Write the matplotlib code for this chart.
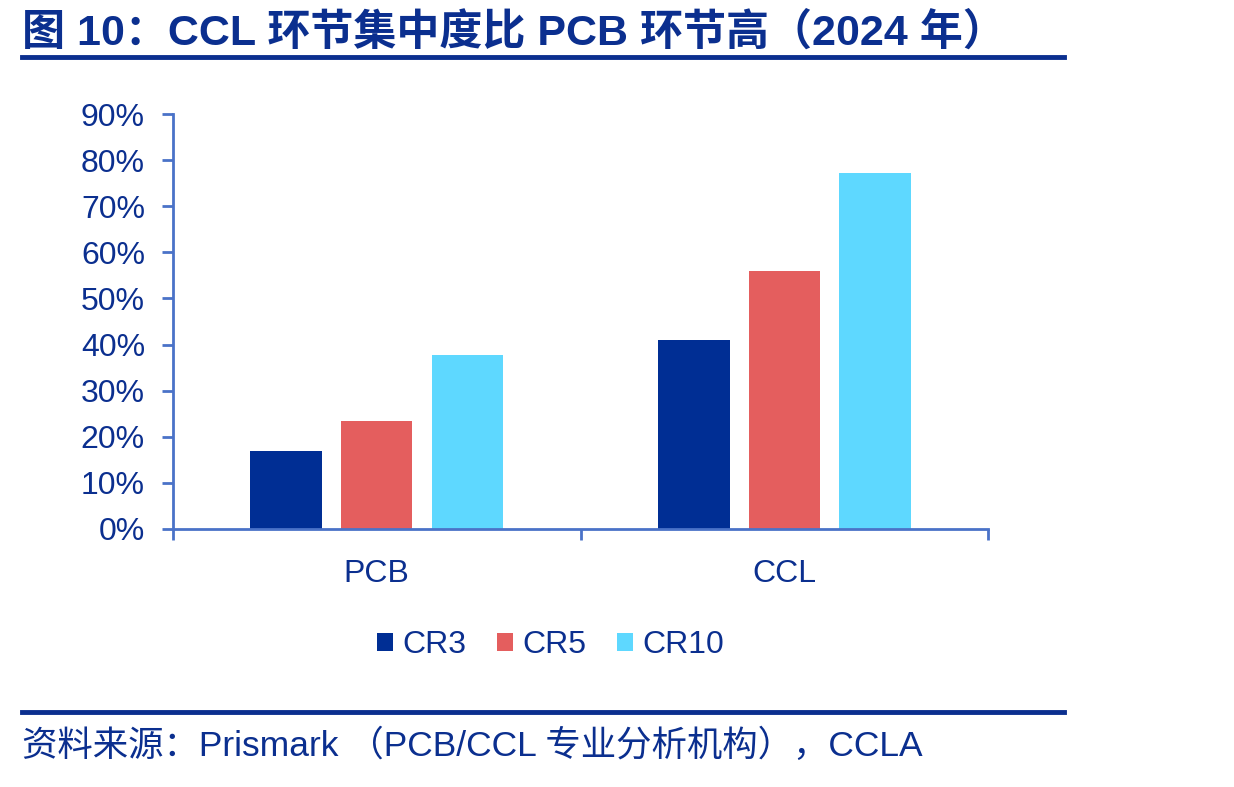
import matplotlib.pyplot as plt
import numpy as np
from matplotlib.ticker import FuncFormatter

plt.rcParams['font.family'] = ['Liberation Sans', 'Noto Sans CJK SC', 'DejaVu Sans']

# Data
categories = ["PCB", "CCL"]
series_names = ["CR3", "CR5", "CR10"]
cr3 = [16.8, 41.0]
cr5 = [23.3, 56.0]
cr10 = [37.8, 77.2]
yticks = [0, 10, 20, 30, 40, 50, 60, 70, 80, 90]

title = "图 10：CCL 环节集中度比 PCB 环节高（2024 年）"
source = "资料来源：Prismark （PCB/CCL 专业分析机构），CCLA"

TEXT = "#0B2F8F"
AXIS = "#4A72C8"
colors = ["#002E94", "#E45E5E", "#5ED8FF"]

fig = plt.figure(figsize=(12.34, 7.87), dpi=100)
ax = fig.add_axes([0.140, 0.328, 0.661, 0.527])

x = np.arange(len(categories))
width = 0.175
step = 0.222
for i, (vals, name) in enumerate(zip([cr3, cr5, cr10], series_names)):
    ax.bar(x + (i - 1) * step, vals, width, color=colors[i], label=name)

ax.set_xlim(-0.5, 1.5)
ax.set_ylim(0, 90)
ax.set_yticks(yticks)
ax.yaxis.set_major_formatter(FuncFormatter(lambda v, p: f"{v:.0f}%"))
ax.set_xticks([-0.5, 0.5, 1.5])
ax.set_xticklabels([])
ax.set_xticks(x, minor=True)
ax.set_xticklabels(categories, minor=True)
ax.tick_params(axis='x', which='minor', length=0, pad=22, labelsize=23, labelcolor=TEXT)
ax.tick_params(axis='x', which='major', length=8, width=2, color=AXIS, direction='out')
ax.tick_params(axis='y', length=8, width=2, color=AXIS, direction='out', pad=12,
               labelsize=23, labelcolor=TEXT)

for s in ['top', 'right']:
    ax.spines[s].set_visible(False)
for s in ['left', 'bottom']:
    ax.spines[s].set_color(AXIS)
    ax.spines[s].set_linewidth(2)

leg = fig.legend(loc='center', bbox_to_anchor=(0.446, 0.180), ncol=3, frameon=False,
                 fontsize=23, handlelength=0.5, handleheight=0.5, handletextpad=0.3,
                 columnspacing=0.95)
for t in leg.get_texts():
    t.set_color(TEXT)

# title and source
fig.text(0.018, 0.943, title, fontsize=31, fontweight='bold', color=TEXT, va='baseline')
fig.add_artist(plt.Line2D([0.018, 0.862], [0.927, 0.927], color="#0B2F8F", lw=3.5,
                          transform=fig.transFigure))
fig.add_artist(plt.Line2D([0.018, 0.862], [0.095, 0.095], color="#0B2F8F", lw=3.5,
                          transform=fig.transFigure))
fig.text(0.018, 0.040, source, fontsize=25.5, color=TEXT, va='baseline')

fig.savefig("out.png", dpi=100, facecolor="white")
